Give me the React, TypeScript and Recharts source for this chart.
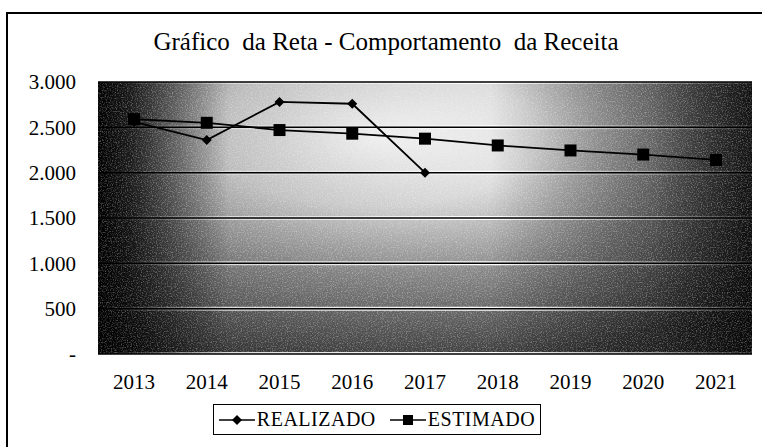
import { LineChart, Line, XAxis, YAxis, CartesianGrid, Legend } from 'recharts';

const years = ['2013', '2014', '2015', '2016', '2017', '2018', '2019', '2020', '2021'];
const realizado = [2560, 2360, 2780, 2760, 2000, null, null, null, null];
const estimado = [2590, 2550, 2470, 2430, 2375, 2300, 2245, 2200, 2140];
const yTicks = [0, 500, 1000, 1500, 2000, 2500, 3000];

const rows = years.map((year, i) => ({
  year,
  realizado: realizado[i],
  estimado: estimado[i],
}));

const serif = '"Liberation Serif"';

const fmtY = (v: number) => (v === 0 ? '-' : v.toLocaleString('pt-BR'));

const Diamond = (props: any) => {
  const { cx, cy } = props;
  if (cx == null || cy == null) return null;
  const r = 5;
  return <path d={`M${cx},${cy - r}L${cx + r},${cy}L${cx},${cy + r}L${cx - r},${cy}Z`} fill="#000" />;
};

const Square = (props: any) => {
  const { cx, cy } = props;
  if (cx == null || cy == null) return null;
  return <rect x={cx - 6} y={cy - 6} width={12} height={12} fill="#000" />;
};

const LegendBox = () => (
  <div
    style={{
      marginTop: 10,
      height: 29,
      width: 326,
      border: '1.5px solid #000',
      display: 'flex',
      alignItems: 'center',
      justifyContent: 'center',
      gap: 14,
      fontFamily: serif,
      fontSize: 20,
      letterSpacing: 0.5,
      whiteSpace: 'nowrap',
      background: '#fff',
    }}
  >
    <span style={{ display: 'flex', alignItems: 'center' }}>
      <svg width={36} height={12} style={{ marginRight: 2 }}>
        <line x1={0} y1={6} x2={36} y2={6} stroke="#000" strokeWidth={1.5} />
        <path d="M18,1L23,6L18,11L13,6Z" fill="#000" />
      </svg>
      REALIZADO
    </span>
    <span style={{ display: 'flex', alignItems: 'center' }}>
      <svg width={36} height={12} style={{ marginRight: 2 }}>
        <line x1={0} y1={6} x2={36} y2={6} stroke="#000" strokeWidth={1.5} />
        <rect x={13} y={1} width={10} height={10} fill="#000" />
      </svg>
      ESTIMADO
    </span>
  </div>
);

export default function App() {
  return (
    <div style={{ position: 'absolute', left: 0, top: 0, width: 762, height: 447, background: '#fff', overflow: 'hidden' }}>
      <div
        style={{
          position: 'absolute',
          left: 6,
          top: 12,
          width: 800,
          height: 500,
          borderTop: '2px solid #000',
          borderLeft: '2px solid #000',
        }}
      />
      <div
        style={{
          position: 'absolute',
          left: 0,
          top: 28,
          width: 772,
          textAlign: 'center',
          fontFamily: serif,
          fontSize: 25,
        }}
      >
        Gráfico&nbsp; da Reta - Comportamento&nbsp; da Receita
      </div>
      <LineChart
        width={762}
        height={447}
        data={rows}
        margin={{ top: 82, right: 10, bottom: 12, left: 8 }}
        style={{ position: 'absolute', left: 0, top: 0 }}
      >
        <defs>
          <filter id="grain" x="0" y="0" width="100%" height="100%">
            <feTurbulence type="fractalNoise" baseFrequency="0.8" numOctaves={2} seed={3} />
            <feColorMatrix
              type="matrix"
              values="0 0 0 0 1  0 0 0 0 1  0 0 0 0 1  0 0 0 -3 1.6"
            />
          </filter>
          <pattern id="noise" patternUnits="userSpaceOnUse" x={0} y={0} width={800} height={500}>
            <rect width={800} height={500} filter="url(#grain)" />
          </pattern>
          <radialGradient id="bg" cx="0.42" cy="0.2" r="0.85">
            <stop offset="0" stopColor="#ffffff" />
            <stop offset="0.3" stopColor="#dcdcdc" />
            <stop offset="0.6" stopColor="#8c8c8c" />
            <stop offset="1" stopColor="#383838" />
          </radialGradient>
          <linearGradient id="edge" x1="0" y1="0" x2="1" y2="0">
            <stop offset="0" stopColor="#000" stopOpacity={1} />
            <stop offset="0.05" stopColor="#000" stopOpacity={0.85} />
            <stop offset="0.2" stopColor="#000" stopOpacity={0.15} />
            <stop offset="0.6" stopColor="#000" stopOpacity={0} />
            <stop offset="0.85" stopColor="#000" stopOpacity={0.4} />
            <stop offset="1" stopColor="#000" stopOpacity={0.85} />
          </linearGradient>
        </defs>
        <CartesianGrid vertical={false} fill="url(#bg)" stroke="#fff" strokeWidth={4} />
        <CartesianGrid vertical={false} fill="url(#edge)" stroke="none" />
        <CartesianGrid vertical={false} fill="url(#noise)" fillOpacity={0.3} stroke="#000" strokeWidth={1.5} />
        <XAxis
          dataKey="year"
          axisLine={false}
          tickLine={false}
          tickSize={0}
          tickMargin={20}
          height={40}
          interval={0}
          padding={{ left: 36, right: 36 }}
          tick={{ fill: '#000', fontFamily: serif, fontSize: 21 }}
        />
        <YAxis
          domain={[0, 3000]}
          ticks={yTicks}
          tickFormatter={fmtY}
          axisLine={false}
          tickLine={false}
          tickSize={0}
          tickMargin={22}
          width={90}
          tick={{ fill: '#000', fontFamily: serif, fontSize: 21 }}
        />
        <Legend
          verticalAlign="bottom"
          align="left"
          wrapperStyle={{ left: 213 }}
          content={() => <LegendBox />}
        />
        <Line
          dataKey="realizado"
          name="REALIZADO"
          stroke="#000"
          strokeWidth={1.8}
          dot={<Diamond />}
          activeDot={false}
          connectNulls={false}
          isAnimationActive={false}
        />
        <Line
          dataKey="estimado"
          name="ESTIMADO"
          stroke="#000"
          strokeWidth={1.8}
          dot={<Square />}
          activeDot={false}
          isAnimationActive={false}
        />
      </LineChart>
    </div>
  );
}
